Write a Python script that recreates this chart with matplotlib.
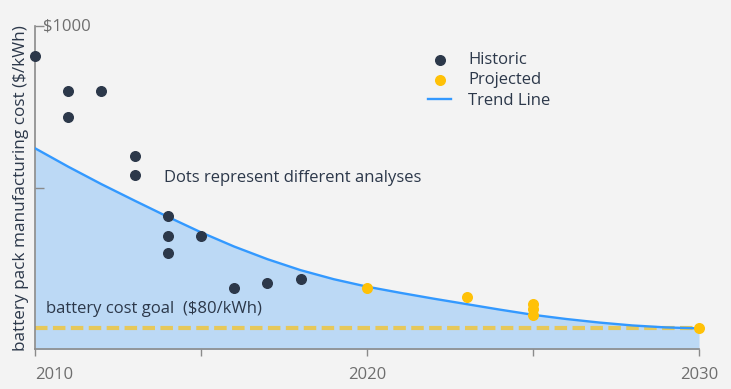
import matplotlib.pyplot as plt

plt.rcParams['font.family'] = ['Open Sans', 'DejaVu Sans']

# Historic analyses ($/kWh)
hist_years = [2010, 2011, 2011, 2012, 2013, 2013, 2014, 2014, 2014, 2015, 2016, 2017, 2018]
hist_cost = [908, 799, 719, 799, 599, 540, 413, 352, 299, 352, 189, 204, 219]

# Projected analyses
proj_years = [2020, 2023, 2025, 2025, 2025, 2030]
proj_cost = [189, 161, 140, 124, 107, 67]

# Trend line
trend_years = list(range(2010, 2031))
trend_cost = [622, 565, 511, 460, 410, 362, 318, 279, 245, 217, 194,
              175, 157, 140, 123, 107, 94, 83, 74, 68, 65]

goal_level = 65  # where the dashed goal line sits in the picture
goal_text = 'battery cost goal  ($80/kWh)'

x_ticks = [2010, 2015, 2020, 2025, 2030]
x_labels = ['2010', '', '2020', '', '2030']

bg = '#f3f3f3'
dark = '#2c384a'
grey = '#6e6e6e'

fig = plt.figure(figsize=(7.31, 3.89), dpi=100, facecolor=bg)
ax = fig.add_axes([35 / 731, 1 - 349.4 / 389, 664 / 731, 323.4 / 389])
ax.set_facecolor(bg)

ax.fill_between(trend_years, trend_cost, 0, color='#bcd9f5', lw=0, zorder=1)
ax.plot(trend_years, trend_cost, color='#3399ff', lw=1.7, zorder=3, label='Trend Line')
ax.axhline(goal_level, color='#e6c85a', lw=3, dashes=(3.0, 1.3), zorder=2)

ax.scatter(hist_years, hist_cost, s=48, color=dark, zorder=4, clip_on=False, label='Historic')
ax.scatter(proj_years, proj_cost, s=48, color='#ffc107', zorder=4, clip_on=False, label='Projected')

ax.set_xlim(2010, 2030)
ax.set_ylim(0, 1000)

for side in ['top', 'right']:
    ax.spines[side].set_visible(False)
for side in ['left', 'bottom']:
    ax.spines[side].set_color('#8a8a8a')
    ax.spines[side].set_linewidth(1.2)

ax.set_xticks(x_ticks)
ax.set_xticklabels(x_labels)
ax.tick_params(axis='x', direction='out', length=5, width=1, color='#8a8a8a',
               labelsize=12, labelcolor=grey, pad=8)
ax.get_xticklabels()[0].set_ha('left')

ax.set_yticks([500, 1000])
ax.set_yticklabels(['', ''])
ax.tick_params(axis='y', direction='in', length=6.5, width=1, color='#8a8a8a')
ax.annotate('$1000', xy=(2010, 1000), xytext=(6, 0), textcoords='offset points',
            ha='left', va='center', fontsize=12, color=grey)

ax.set_ylabel('battery pack manufacturing cost ($/kWh)', fontsize=12.3, color=dark, labelpad=1)

ax.text(2013.9, 530, 'Dots represent different analyses', fontsize=12, color=dark,
        ha='left', va='center')
ax.text(2010.32, 124, goal_text, fontsize=12, color=dark, ha='left', va='center')

handles, labels = ax.get_legend_handles_labels()
order = [1, 2, 0]
leg = ax.legend([handles[i] for i in order], [labels[i] for i in order],
                loc='upper left', bbox_to_anchor=(0.57, 0.965), frameon=False,
                fontsize=12, handlelength=1.35, handletextpad=1.05, labelspacing=0.25)
for t in leg.get_texts():
    t.set_color(dark)

fig.savefig('out.png', dpi=100, facecolor=bg)
